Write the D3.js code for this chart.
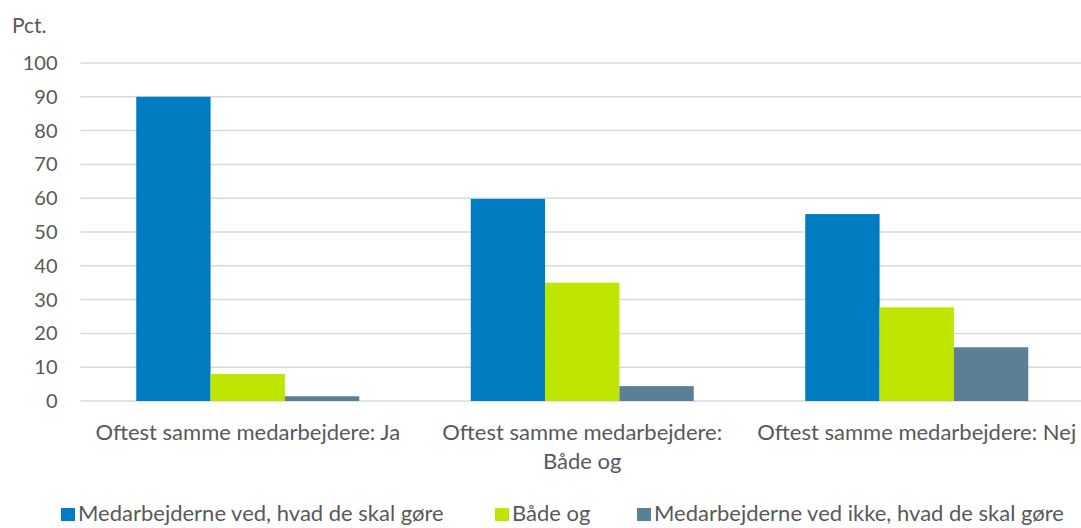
<!DOCTYPE html>
<html>
<head>
<meta charset="utf-8">
<script src="https://cdn.jsdelivr.net/npm/d3@7"></script>
<style>
  body { margin: 0; background: #fff; }
  svg text { font-family: Lato, "Open Sans", sans-serif; fill: #595959; }
</style>
</head>
<body>
<div id="chart"></div>
<script>
// data
var categories = ["Oftest samme medarbejdere: Ja", "Oftest samme medarbejdere: Både og", "Oftest samme medarbejdere: Nej"];
var catLines = [["Oftest samme medarbejdere: Ja"], ["Oftest samme medarbejdere:", "Både og"], ["Oftest samme medarbejdere: Nej"]];
var seriesNames = ["Medarbejderne ved, hvad de skal gøre", "Både og", "Medarbejderne ved ikke, hvad de skal gøre"];
var vedValues = [90, 59.8, 55.3];
var baadeValues = [8, 35, 27.7];
var ikkeValues = [1.4, 4.4, 15.9];
var colors = ["#007CC3", "#BFE600", "#5B7F95"];
var yTicks = [0, 10, 20, 30, 40, 50, 60, 70, 80, 90, 100];

var series = [vedValues, baadeValues, ikkeValues];

var width = 1081, height = 528;
var margin = {top: 63, right: -3, bottom: 127, left: 80.5};

var svg = d3.select("#chart").append("svg")
  .attr("width", width)
  .attr("height", height);

var x0 = d3.scaleBand()
  .domain(categories)
  .range([margin.left, width - margin.right])
  .paddingInner(0)
  .paddingOuter(0);

var x1 = d3.scaleBand()
  .domain(d3.range(series.length))
  .range([0, x0.bandwidth()])
  .paddingInner(0)
  .paddingOuter(0.75);

var y = d3.scaleLinear()
  .domain([0, 100])
  .range([height - margin.bottom, margin.top]);

// gridlines
svg.append("g")
  .selectAll("line")
  .data(yTicks)
  .enter()
  .append("line")
  .attr("x1", margin.left)
  .attr("x2", width)
  .attr("y1", function(d) { return y(d); })
  .attr("y2", function(d) { return y(d); })
  .attr("stroke", "#d9d9d9")
  .attr("stroke-width", 1.5);

// y axis labels
var yAxis = svg.append("g")
  .attr("transform", "translate(" + (margin.left - 23) + ",0)")
  .call(d3.axisLeft(y).tickValues(yTicks).tickSize(0).tickPadding(0));
yAxis.select(".domain").remove();
yAxis.selectAll("text")
  .attr("font-size", 20)
  .style("font-family", "Lato, sans-serif")
  .attr("fill", "#595959");

svg.append("text")
  .attr("x", 12)
  .attr("y", 33)
  .attr("font-size", 21)
  .text("Pct.");

// bars
var groups = svg.selectAll(".grp")
  .data(categories)
  .enter()
  .append("g")
  .attr("class", "grp")
  .attr("transform", function(d) { return "translate(" + x0(d) + ",0)"; });

groups.selectAll("rect")
  .data(function(d, i) { return series.map(function(s, j) { return {s: j, v: s[i]}; }); })
  .enter()
  .append("rect")
  .attr("x", function(d) { return x1(d.s); })
  .attr("width", x1.bandwidth())
  .attr("y", function(d) { return y(d.v); })
  .attr("height", function(d) { return y(0) - y(d.v); })
  .attr("fill", function(d) { return colors[d.s]; });

// category labels
categories.forEach(function(c, i) {
  var t = svg.append("text")
    .attr("text-anchor", "middle")
    .attr("font-size", 22)
    .attr("x", x0(c) + x0.bandwidth() / 2)
    .attr("y", 440);
  catLines[i].forEach(function(line, k) {
    t.append("tspan")
      .attr("x", x0(c) + x0.bandwidth() / 2)
      .attr("dy", k === 0 ? 0 : 29)
      .text(line);
  });
});

// legend (raised a little so descenders are not clipped)
var legendX = [61, 495, 637];
seriesNames.forEach(function(name, i) {
  svg.append("rect")
    .attr("x", legendX[i])
    .attr("y", 508)
    .attr("width", 14)
    .attr("height", 13)
    .attr("fill", colors[i]);
  svg.append("text")
    .attr("x", legendX[i] + 17)
    .attr("y", 521)
    .attr("font-size", 22)
    .text(name);
});
</script>
</body>
</html>
